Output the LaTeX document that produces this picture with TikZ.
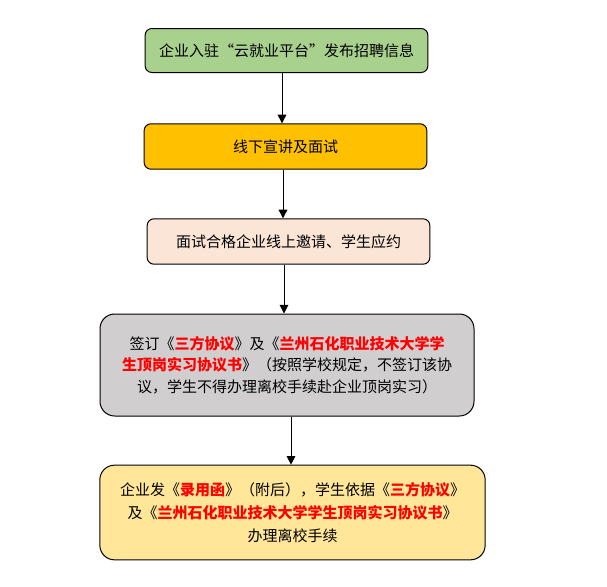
\documentclass[tikz,border=0pt]{standalone}
\usepackage{fontspec}
\usepackage{tikz}
\usetikzlibrary{arrows.meta}
\newfontfamily\cjk{Noto Sans CJK SC}
\definecolor{boxgreen}{HTML}{A9D18E}
\definecolor{boxorange}{HTML}{FFC000}
\definecolor{boxpeach}{HTML}{FBE5D6}
\definecolor{boxgray}{HTML}{D0CECE}
\definecolor{boxyellow}{HTML}{FFE699}
\newcommand{\hl}[1]{\textcolor{red}{\bfseries #1}}
\begin{document}
\begin{tikzpicture}[x=0.75pt,y=-0.75pt]
\useasboundingbox (0,0) rectangle (607,586);
\tikzstyle{every node} = [rectangle,draw=black,line width=0.75pt,
rounded corners=5pt,inner sep=0pt,align=center,
font=\cjk\fontsize{11.25}{16}\selectfont]
\tikzstyle{flow} = [-{Triangle[length=6.5pt,width=6.5pt]},line width=0.75pt]
\node[fill=boxgreen,minimum width=212pt,minimum height=33pt] (post) at (286.5, 50.5) {企业入驻“云就业平台”发布招聘信息};
\node[fill=boxorange,minimum width=212pt,minimum height=34pt] (talk) at (285.5, 146.5) {线下宣讲及面试};
\node[fill=boxpeach,minimum width=212pt,minimum height=34pt] (offer) at (288.5, 241.5) {面试合格企业线上邀请、学生应约};
\node[fill=boxgray,rounded corners=11pt,minimum width=280.5pt,minimum height=76.5pt] (sign) at (287, 365)
{签订《\hl{三方协议}》及《\hl{兰州石化职业技术大学学}\\
\hl{生顶岗实习协议书}》（按照学校规定，不签订该协\\
议，学生不得办理离校手续赴企业顶岗实习）};
\node[fill=boxyellow,rounded corners=11pt,minimum width=289pt,minimum height=71pt,
font=\cjk\fontsize{11.25}{17}\selectfont] (leave) at (292.5, 512.5)
{企业发《\hl{录用函}》（附后），学生依据《\hl{三方协议}》\\
及《\hl{兰州石化职业技术大学学生顶岗实习协议书}》\\
办理离校手续};
\draw [flow] (post.south -| 282,0) -- (talk.north -| 282,0);
\draw [flow] (talk.south -| 283,0) -- (offer.north -| 283,0);
\draw [flow] (offer.south -| 284,0) -- (sign.north -| 284,0);
\draw [flow] (sign.south -| 291,0) -- (leave.north -| 291,0);
\end{tikzpicture}
\end{document}
